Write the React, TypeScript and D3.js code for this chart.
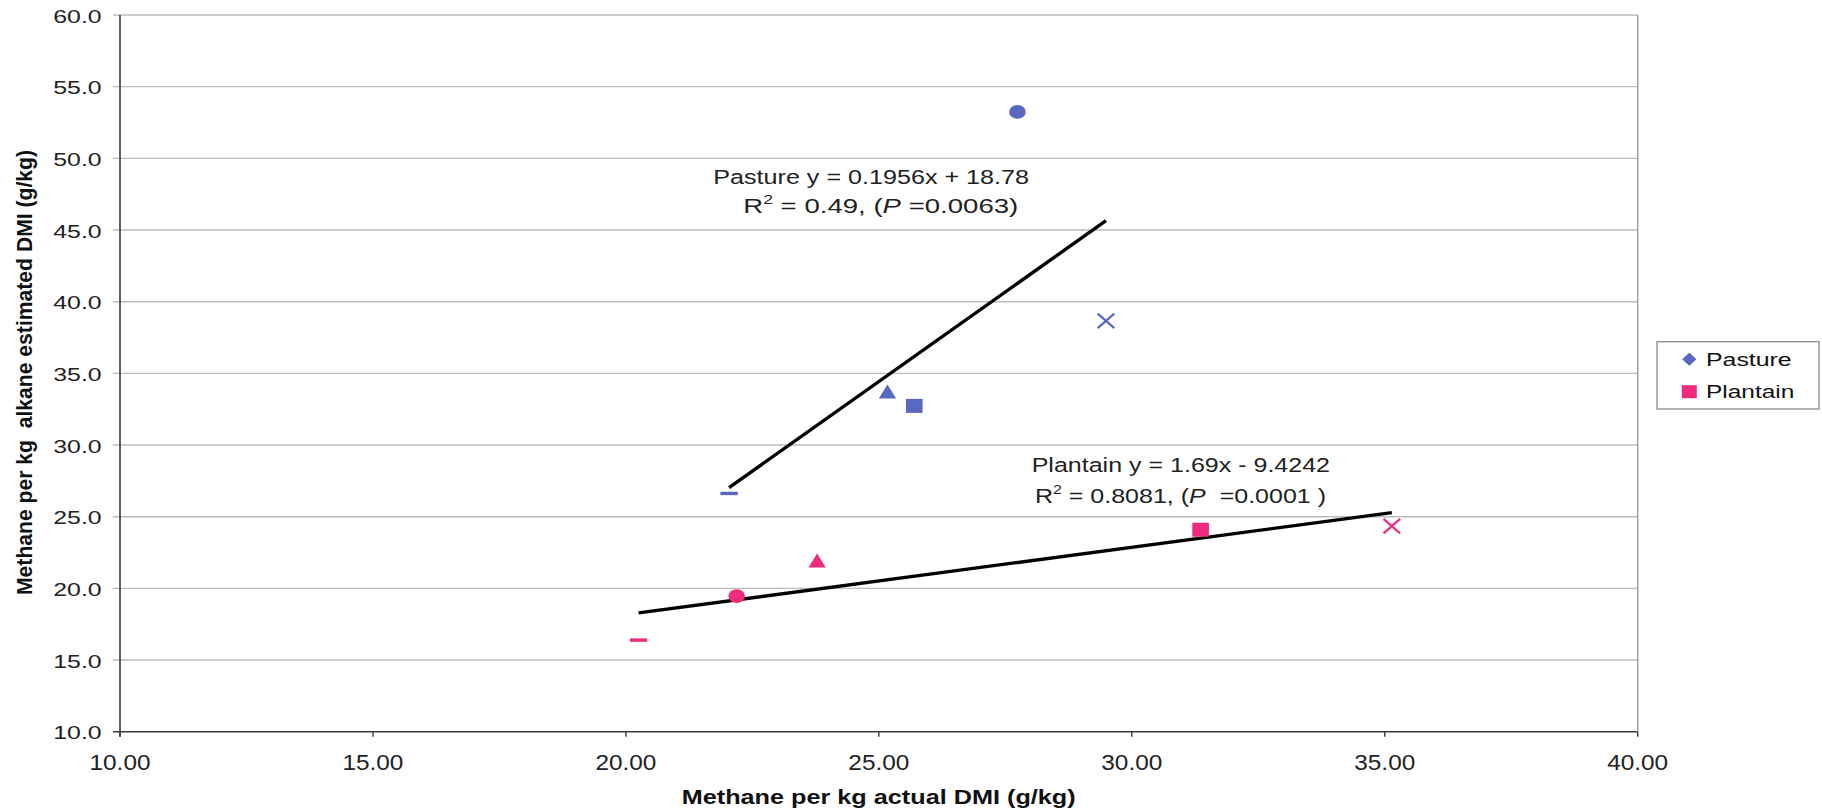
import React from "react";
import * as d3 from "d3";

// Methane yield per kg DMI: actual intake vs. alkane-estimated intake
const pastureX = [22.04, 25.17, 25.7, 27.74, 29.49];
const pastureY = [26.62, 33.74, 32.73, 53.24, 38.66];
const pastureShape = ["dash", "triangle", "square", "circle", "cross"];

const plantainX = [20.25, 22.19, 23.78, 31.36, 35.14];
const plantainY = [16.39, 19.46, 21.94, 24.09, 24.34];
const plantainShape = ["dash", "circle", "triangle", "square", "cross"];

const xTicks = [10, 15, 20, 25, 30, 35, 40];
const yTicks = [10, 15, 20, 25, 30, 35, 40, 45, 50, 55, 60];

const seriesNames = ["Pasture", "Plantain"];
const seriesColors = ["#5b68bf", "#ee2c7f"];

const W = 1822;
const H = 812;
const left = 120;
const right = 1637.7;
const top = 15;
const bottom = 731.7;

const FONT = "'Liberation Sans', Arial, sans-serif";

// ordinary least squares y = a + b x
function fit(xs: number[], ys: number[]) {
  const mx = d3.mean(xs) as number;
  const my = d3.mean(ys) as number;
  let sxy = 0;
  let sxx = 0;
  xs.forEach((x, i) => {
    sxy += (x - mx) * (ys[i] - my);
    sxx += (x - mx) * (x - mx);
  });
  const b = sxy / sxx;
  const a = my - b * mx;
  const x0 = d3.min(xs) as number;
  const x1 = d3.max(xs) as number;
  return [
    [x0, a + b * x0],
    [x1, a + b * x1],
  ] as [number, number][];
}

function Marker({ shape, cx, cy, color }: { shape: string; cx: number; cy: number; color: string }) {
  switch (shape) {
    case "circle":
      return <ellipse cx={cx} cy={cy} rx={8.3} ry={6.8} fill={color} />;
    case "square":
      return <rect x={cx - 8.3} y={cy - 7} width={16.6} height={14} fill={color} />;
    case "triangle":
      return (
        <path
          d={`M${cx},${cy - 7} L${cx + 8.7},${cy + 7} L${cx - 8.7},${cy + 7} Z`}
          fill={color}
        />
      );
    case "dash":
      return <rect x={cx - 8.7} y={cy - 1.7} width={17.4} height={3.4} fill={color} />;
    case "cross":
      return (
        <g stroke={color} strokeWidth={2.2}>
          <line x1={cx - 8.3} y1={cy - 7.3} x2={cx + 8.3} y2={cy + 7.3} />
          <line x1={cx - 8.3} y1={cy + 7.3} x2={cx + 8.3} y2={cy - 7.3} />
        </g>
      );
    default:
      return null;
  }
}

export default function App() {
  const x = d3.scaleLinear().domain([10, 40]).range([left, right]);
  const y = d3.scaleLinear().domain([10, 60]).range([bottom, top]);
  const line = d3
    .line<[number, number]>()
    .x((d) => x(d[0]))
    .y((d) => y(d[1]));

  const series = [
    { xs: pastureX, ys: pastureY, shapes: pastureShape, color: seriesColors[0] },
    { xs: plantainX, ys: plantainY, shapes: plantainShape, color: seriesColors[1] },
  ];

  return (
    <svg
      width={W}
      height={H}
      style={{ position: "absolute", left: 0, top: 0, background: "#fff" }}
      fontFamily={FONT}
    >
      <rect x={0} y={0} width={W} height={H} fill="#fff" />

      {/* horizontal gridlines */}
      {yTicks.map((t) => (
        <line
          key={`g${t}`}
          x1={left - 7}
          x2={right}
          y1={y(t)}
          y2={y(t)}
          stroke={t === 10 ? "#3a3a3a" : "#bcbcbc"}
          strokeWidth={t === 10 ? 1.6 : 1.4}
        />
      ))}
      {/* plot area right edge */}
      <line x1={right} x2={right} y1={top} y2={bottom} stroke="#9a9a9a" strokeWidth={1.4} />
      {/* y axis */}
      <line x1={left} x2={left} y1={top} y2={bottom + 5} stroke="#3a3a3a" strokeWidth={1.6} />
      {/* x ticks */}
      {xTicks.map((t) => (
        <line
          key={`xt${t}`}
          x1={x(t)}
          x2={x(t)}
          y1={bottom}
          y2={bottom + 5}
          stroke="#3a3a3a"
          strokeWidth={1.4}
        />
      ))}

      {/* y tick labels */}
      {yTicks.map((t) => (
        <text
          key={`yl${t}`}
          x={101.7}
          y={y(t) + 1}
          dy="0.36em"
          textAnchor="end"
          fontSize={18.5}
          fill="#222"
          textLength={48.4}
          lengthAdjust="spacingAndGlyphs"
        >
          {d3.format(".1f")(t)}
        </text>
      ))}
      {/* x tick labels */}
      {xTicks.map((t) => (
        <text
          key={`xl${t}`}
          x={x(t)}
          y={769.5}
          textAnchor="middle"
          fontSize={22}
          fill="#222"
          textLength={61}
          lengthAdjust="spacingAndGlyphs"
        >
          {d3.format(".2f")(t)}
        </text>
      ))}

      {/* axis titles */}
      <text
        x={681.7}
        y={804}
        fontSize={19.5}
        fontWeight="bold"
        fill="#111"
        textLength={394}
        lengthAdjust="spacingAndGlyphs"
      >
        Methane per kg actual DMI (g/kg)
      </text>
      <text
        transform="translate(31.5,595) rotate(-90)"
        x={0}
        y={0}
        fontSize={21.5}
        fontWeight="bold"
        fill="#111"
        textLength={445}
        lengthAdjust="spacingAndGlyphs"
        style={{ whiteSpace: "pre" }}
      >
        {"Methane per kg  alkane estimated DMI (g/kg)"}
      </text>

      {/* trend lines */}
      {series.map((s, i) => (
        <path
          key={`tl${i}`}
          d={line(fit(s.xs, s.ys)) || ""}
          fill="none"
          stroke="#000"
          strokeWidth={3.4}
        />
      ))}

      {/* points */}
      {series.map((s, i) =>
        s.xs.map((v, j) => (
          <Marker key={`m${i}-${j}`} shape={s.shapes[j]} cx={x(v)} cy={y(s.ys[j])} color={s.color} />
        ))
      )}

      {/* regression annotations */}
      <text x={713.3} y={184} fontSize={20.5} fill="#222" textLength={315.7} lengthAdjust="spacingAndGlyphs">
        Pasture y = 0.1956x + 18.78
      </text>
      <text x={743.3} y={213.3} fontSize={20.5} fill="#222" textLength={275} lengthAdjust="spacingAndGlyphs" style={{ whiteSpace: "pre" }}>
        R<tspan fontSize={13} dy={-9}>2</tspan>
        <tspan dy={9}> = 0.49, (</tspan>
        <tspan fontStyle="italic">P</tspan>
        <tspan> =0.0063)</tspan>
      </text>
      <text x={1031.7} y={471.7} fontSize={20.5} fill="#222" textLength={298.3} lengthAdjust="spacingAndGlyphs">
        Plantain y = 1.69x - 9.4242
      </text>
      <text x={1035} y={502.7} fontSize={20.5} fill="#222" textLength={291} lengthAdjust="spacingAndGlyphs" style={{ whiteSpace: "pre" }}>
        R<tspan fontSize={13} dy={-9}>2</tspan>
        <tspan dy={9}> = 0.8081, (</tspan>
        <tspan fontStyle="italic">P</tspan>
        <tspan>  =0.0001 )</tspan>
      </text>

      {/* legend */}
      <rect x={1657} y={341.7} width={162} height={67.3} fill="#fff" stroke="#8a8a8a" strokeWidth={1.3} />
      {seriesNames.map((n, i) => {
        const cy = 359.3 + i * 32.4;
        return (
          <g key={n}>
            {i === 0 ? (
              <path
                d={`M1689.3,${cy - 6.5} L1696.5,${cy} L1689.3,${cy + 6.5} L1682.1,${cy} Z`}
                fill={seriesColors[i]}
              />
            ) : (
              <rect x={1681.8} y={cy - 6.5} width={15} height={13} fill={seriesColors[i]} />
            )}
            <text
              x={1706}
              y={cy + 6.4}
              fontSize={17.5}
              fill="#111"
              textLength={i === 0 ? 85.7 : 88.3}
              lengthAdjust="spacingAndGlyphs"
            >
              {n}
            </text>
          </g>
        );
      })}
    </svg>
  );
}
